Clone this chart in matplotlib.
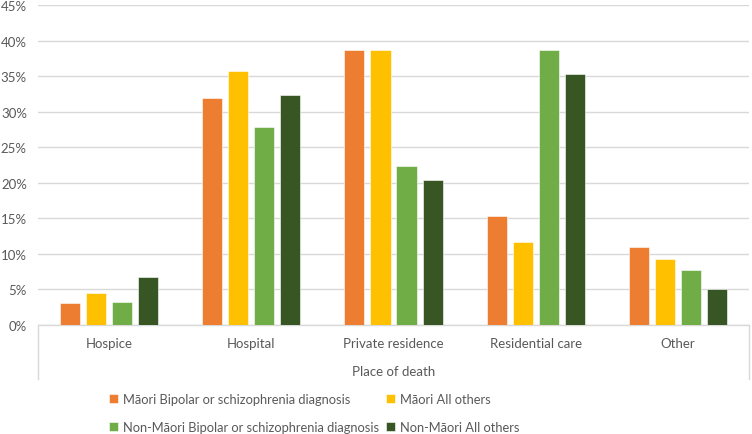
import numpy as np
import matplotlib
matplotlib.use('Agg')
import matplotlib.pyplot as plt
from matplotlib.lines import Line2D

categories = ['Hospice', 'Hospital', 'Private residence', 'Residential care', 'Other']
series_names = ['Māori Bipolar or schizophrenia diagnosis',
                'Māori All others',
                'Non-Māori Bipolar or schizophrenia diagnosis',
                'Non-Māori All others']
maori_bipolar = [3.1, 31.9, 38.7, 15.3, 11.0]
maori_others = [4.5, 35.7, 38.7, 11.7, 9.3]
non_maori_bipolar = [3.3, 27.8, 22.4, 38.7, 7.7]
non_maori_others = [6.8, 32.3, 20.4, 35.3, 5.1]
series = [maori_bipolar, maori_others, non_maori_bipolar, non_maori_others]
colors = ['#ED7D31', '#FFC000', '#70AD47', '#375623']

plt.rcParams['font.family'] = ['Lato', 'DejaVu Sans']
txt = '#595959'
grid = '#D9D9D9'

W, H = 752, 435
fig = plt.figure(figsize=(W / 100, H / 100), dpi=100)
ax = fig.add_axes([38 / W, (H - 326) / H, (749 - 38) / W, 320 / H])

x = np.arange(len(categories))
bw = 0.141
step = 0.183
handles = []
for i, (vals, c) in enumerate(zip(series, colors)):
    b = ax.bar(x + (i - 1.5) * step, vals, width=bw, color=c,
               edgecolor='white', linewidth=0.4, zorder=3, label=series_names[i])
    handles.append(b)

ax.set_xlim(-0.5, len(categories) - 0.5)
ax.set_ylim(0, 45)
ax.set_yticks(np.arange(0, 46, 5))
ax.set_yticklabels([f'{v}%' for v in range(0, 46, 5)])
ax.yaxis.grid(True, color=grid, linewidth=1, zorder=0)
ax.set_xticks(x)
ax.set_xticklabels(categories)
ax.tick_params(axis='both', length=0, colors=txt, labelsize=9.5)
ax.tick_params(axis='x', pad=9)
ax.tick_params(axis='y', pad=8)
for s in ['top', 'right', 'left']:
    ax.spines[s].set_visible(False)
ax.spines['bottom'].set_color(grid)
ax.spines['bottom'].set_linewidth(1)

# outer box lines of the category axis
for xa in (0, 1):
    ax.add_line(Line2D([xa, xa], [0, -54 / 320], transform=ax.transAxes,
                       color=grid, linewidth=1, clip_on=False))

ax.set_xlabel('Place of death', color=txt, fontsize=9.5, labelpad=11)

order = [0, 2, 1, 3]
leg = fig.legend([handles[k] for k in order], [series_names[k] for k in order],
                 ncol=2, loc='upper left', bbox_to_anchor=(104 / W, 1 - 389 / H),
                 frameon=False, fontsize=9.3, labelcolor=txt,
                 handlelength=0.7, handleheight=0.7, handletextpad=0.4,
                 columnspacing=0.5, labelspacing=1.2, borderaxespad=0)

fig.savefig('out.png', dpi=100)
